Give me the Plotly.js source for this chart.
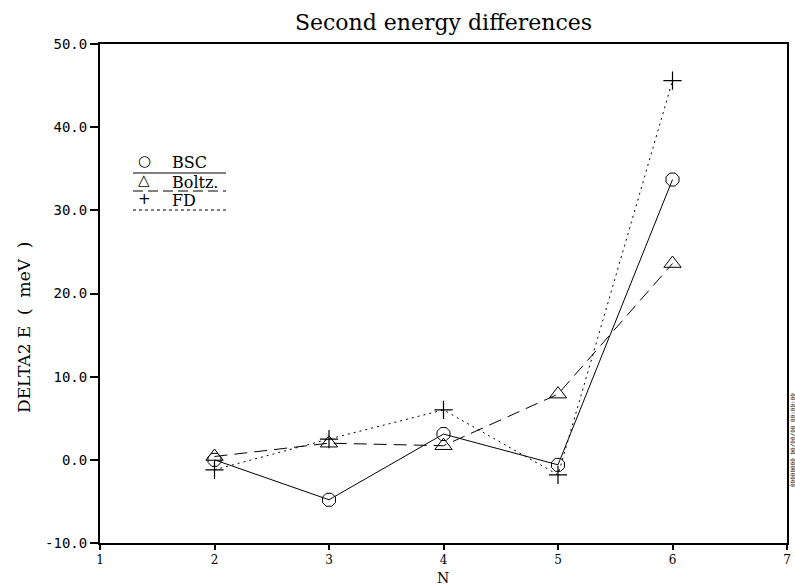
<!DOCTYPE html>
<html>
<head>
<meta charset="utf-8">
<script src="https://cdn.plot.ly/plotly-3.0.1.min.js"></script>
<style>html,body{margin:0;padding:0;background:#fff;}#chart{width:795px;height:587px;}</style>
</head>
<body>
<div id="chart"></div>
<script>
// Data
const nValues = [2, 3, 4, 5, 6];
const bscValues = [0.0, -4.8, 3.1, -0.6, 33.7];
const boltzValues = [0.4, 2.0, 1.7, 7.9, 23.6];
const fdValues = [-1.2, 2.5, 6.0, -1.8, 45.6];
const seriesNames = ["BSC", "Boltz.", "FD"];
const yTickVals = [-10, 0, 10, 20, 30, 40, 50];
const xTickVals = [1, 2, 3, 4, 5, 6, 7];

const serif = "DejaVu Serif, serif";
const mono = "DejaVu Sans Mono, monospace";

const traces = [
  {x: nValues, y: bscValues, name: seriesNames[0], mode: "lines+markers",
   line: {color: "#000", width: 1, dash: "solid"},
   marker: {symbol: "octagon-open", size: 14, color: "#000", line: {width: 1, color: "#000"}}},
  {x: nValues, y: boltzValues, name: seriesNames[1], mode: "lines+markers",
   line: {color: "#000", width: 1, dash: "13px,7px"},
   marker: {symbol: "triangle-up-open", size: 15, color: "#000", line: {width: 1, color: "#000"}}},
  {x: nValues, y: fdValues, name: seriesNames[2], mode: "lines+markers",
   line: {color: "#000", width: 1, dash: "2px,4px"},
   marker: {symbol: "cross-thin-open", size: 13, color: "#000", line: {width: 1.2, color: "#000"}}}
];

const legendSymbols = ["○", "△", "+"];
const legendSymY = [161, 180, 199];
const legendY = [162, 182, 200];
const lineY = [173, 191, 210];
const lineDash = ["solid", "10px,5px", "dot"];
const W = 795, H = 587, ML = 100, MR = 8, MT = 44, MB = 44;
const px = v => (v - ML) / (W - ML - MR);
const py = v => 1 - (v - MT) / (H - MT - MB);

const annotations = [];
const shapes = [];
for (let i = 0; i < 3; i++) {
  annotations.push({xref: "paper", yref: "paper", x: px(144), y: py(legendSymY[i]), text: legendSymbols[i],
    showarrow: false, xanchor: "center", yanchor: "middle", font: {family: "DejaVu Sans, sans-serif", size: 15, color: "#000"}});
  annotations.push({xref: "paper", yref: "paper", x: px(170), y: py(legendY[i]), text: seriesNames[i],
    showarrow: false, xanchor: "left", yanchor: "middle", font: {family: serif, size: 16, color: "#000"}});
  shapes.push({type: "line", xref: "paper", yref: "paper", x0: px(133), x1: px(226), y0: py(lineY[i]), y1: py(lineY[i]),
    line: {color: "#000", width: 1, dash: lineDash[i]}});
}
annotations.push({xref: "paper", yref: "paper", x: px(792), y: py(440), text: "00000000 00/00/00 00:00:00",
  showarrow: false, textangle: -90, xanchor: "center", yanchor: "middle", font: {family: mono, size: 6, color: "#000"}});
annotations.push({xref: "paper", yref: "paper", x: px(443), y: py(578), text: "N", borderpad: 0,
  showarrow: false, xanchor: "center", yanchor: "middle", font: {family: serif, size: 14, color: "#000"}});
annotations.push({xref: "paper", yref: "paper", x: px(24), y: py(328), text: "DELTA2 E  (  meV  )",
  showarrow: false, textangle: -90, xanchor: "center", yanchor: "middle", font: {family: serif, size: 17, color: "#000"}});

const layout = {
  width: W, height: H,
  margin: {l: ML, r: MR, t: MT, b: MB, pad: 0},
  paper_bgcolor: "#fff", plot_bgcolor: "#fff",
  showlegend: false,
  title: {text: "Second energy differences", x: 0.5, xref: "paper", y: 1 - 22 / H, yanchor: "middle",
    font: {family: serif, size: 22, color: "#000"}},
  xaxis: {range: [1, 7], tickvals: xTickVals, ticktext: xTickVals.map(String),
    showgrid: false, zeroline: false, showline: true, linewidth: 2, linecolor: "#000", mirror: true,
    ticks: "outside", ticklen: 5, tickwidth: 2, tickcolor: "#000",
    tickfont: {family: serif, size: 12, color: "#000"}},
  yaxis: {range: [-10, 50], tickvals: yTickVals, ticktext: yTickVals.map(v => v.toFixed(1)),
    showgrid: false, zeroline: false, showline: true, linewidth: 2, linecolor: "#000", mirror: true,
    ticks: "outside", ticklen: 8, tickwidth: 2, tickcolor: "#000",
    tickfont: {family: mono, size: 14, color: "#000"}},
  annotations: annotations,
  shapes: shapes
};

Plotly.newPlot("chart", traces, layout, {displayModeBar: false, staticPlot: true});
</script>
</body>
</html>
